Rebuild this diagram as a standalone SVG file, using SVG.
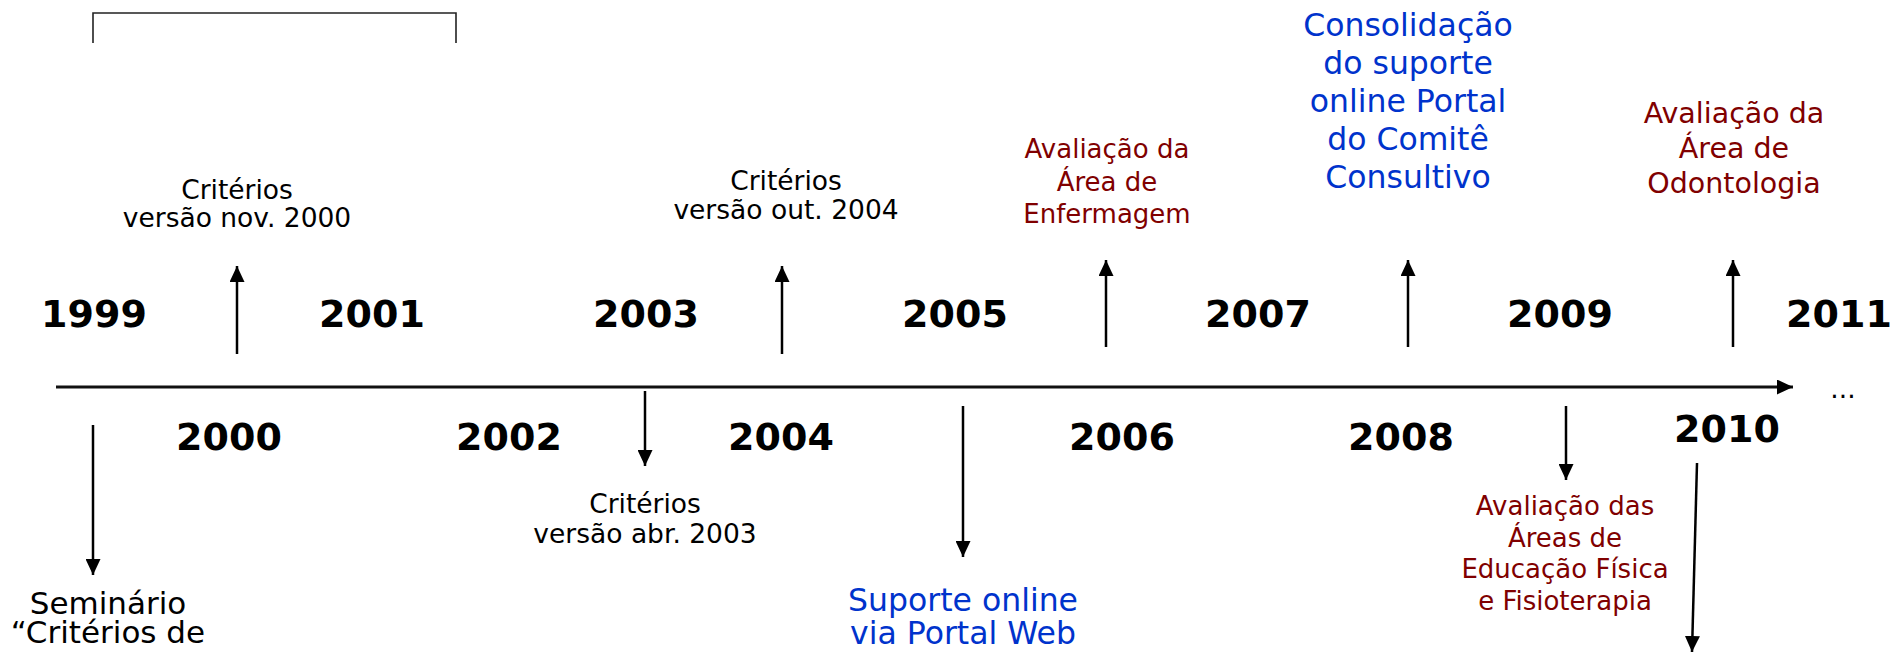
<svg xmlns="http://www.w3.org/2000/svg" width="1895" height="653" viewBox="0 0 1895 653">
<style>
  .yr{font-family:"DejaVu Sans",Verdana,sans-serif;font-weight:bold;font-size:38px;fill:#000;text-anchor:middle}
  .blk{font-family:"DejaVu Sans",Verdana,sans-serif;font-size:26.5px;fill:#000;text-anchor:middle}
  .red{font-family:"DejaVu Sans",Verdana,sans-serif;font-size:26px;fill:#800000;text-anchor:middle}
  .red2{font-family:"DejaVu Sans",Verdana,sans-serif;font-size:28.5px;fill:#800000;text-anchor:middle}
  .blue{font-family:"DejaVu Sans",Verdana,sans-serif;font-size:31.5px;fill:#0033cc;text-anchor:middle}
  .big{font-family:"DejaVu Sans",Verdana,sans-serif;font-size:31px;fill:#000;text-anchor:middle}
  .ln{stroke:#000;stroke-width:2.5;fill:none;marker-end:url(#ah)}
</style>
<defs>
  <marker id="ah" markerUnits="userSpaceOnUse" markerWidth="16" markerHeight="15" refX="16" refY="7.5" orient="auto">
    <path d="M0,0 L16,7.5 L0,15 z" fill="#000"/>
  </marker>
</defs>
<rect width="1895" height="653" fill="#fff"/>
<g id="connectors">
  <path d="M93,43 V13 H456 V43" fill="none" stroke="#222" stroke-width="1.6"/>
  <line class="ln" x1="56" y1="387" x2="1793" y2="387" style="stroke-width:3;stroke:#111"/>
  <line class="ln" x1="237" y1="354" x2="237" y2="266"/>
  <line class="ln" x1="782" y1="354" x2="782" y2="266"/>
  <line class="ln" x1="1106" y1="347" x2="1106" y2="260"/>
  <line class="ln" x1="1408" y1="347" x2="1408" y2="260"/>
  <line class="ln" x1="1733" y1="347" x2="1733" y2="260"/>
  <line class="ln" x1="93" y1="425" x2="93" y2="575"/>
  <line class="ln" x1="645" y1="391" x2="645" y2="466"/>
  <line class="ln" x1="963" y1="406" x2="963" y2="557"/>
  <line class="ln" x1="1566" y1="406" x2="1566" y2="480"/>
  <line class="ln" x1="1697" y1="463" x2="1692" y2="652"/>
</g>
<g id="years-top">
  <text class="yr" x="94" y="327">1999</text>
  <text class="yr" x="372" y="327">2001</text>
  <text class="yr" x="646" y="327">2003</text>
  <text class="yr" x="955" y="327">2005</text>
  <text class="yr" x="1258" y="327">2007</text>
  <text class="yr" x="1560" y="327">2009</text>
  <text class="yr" x="1839" y="327">2011</text>
</g>
<g id="years-bottom">
  <text class="yr" x="229" y="450">2000</text>
  <text class="yr" x="509" y="450">2002</text>
  <text class="yr" x="781" y="450">2004</text>
  <text class="yr" x="1122" y="450">2006</text>
  <text class="yr" x="1401" y="450">2008</text>
  <text class="yr" x="1727" y="442">2010</text>
</g>
<g id="ellipsis"><text class="blk" x="1843" y="398">...</text></g>
<g id="ev-2000"><text class="blk" x="237" y="199">Critérios</text><text class="blk" x="237" y="227">versão nov. 2000</text></g>
<g id="ev-2004"><text class="blk" x="786" y="190">Critérios</text><text class="blk" x="786" y="219">versão out. 2004</text></g>
<g id="ev-2003"><text class="blk" x="645" y="513">Critérios</text><text class="blk" x="645" y="543">versão abr. 2003</text></g>
<g id="ev-enf"><text class="red" x="1107" y="158">Avaliação da</text><text class="red" x="1107" y="191">Área de</text><text class="red" x="1107" y="223">Enfermagem</text></g>
<g id="ev-odonto"><text class="red2" x="1734" y="123">Avaliação da</text><text class="red2" x="1734" y="158">Área de</text><text class="red2" x="1734" y="193">Odontologia</text></g>
<g id="ev-edfis"><text class="red" x="1565" y="515">Avaliação das</text><text class="red" x="1565" y="547">Áreas de</text><text class="red" x="1565" y="578">Educação Física</text><text class="red" x="1565" y="610">e Fisioterapia</text></g>
<g id="ev-consol"><text class="blue" x="1408" y="36">Consolidação</text><text class="blue" x="1408" y="74">do suporte</text><text class="blue" x="1408" y="112">online Portal</text><text class="blue" x="1408" y="150">do Comitê</text><text class="blue" x="1408" y="188">Consultivo</text></g>
<g id="ev-suporte"><text class="blue" x="963" y="611">Suporte online</text><text class="blue" x="963" y="644">via Portal Web</text></g>
<g id="ev-seminario"><text class="big" x="108" y="614">Seminário</text><text class="big" x="108" y="643">“Critérios de</text></g>
</svg>
